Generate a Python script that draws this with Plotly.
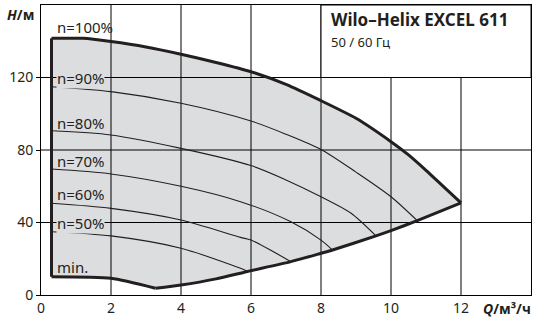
import plotly.graph_objects as go

# ---- data ----
q_ticks = [0, 2, 4, 6, 8, 10, 12]
h_ticks = [0, 40, 80, 120]

n100_q = [0.3, 1.2, 2, 3, 4, 5, 6, 7, 8, 9, 10, 10.5, 11, 11.5, 12]
n100_h = [141.6, 141.6, 139.8, 136.8, 132.8, 128.3, 123.2, 116.2, 107.2, 97.5, 84.6, 77.3, 68.8, 59.8, 50.8]

min_q = [0.3, 2, 3.27, 4, 5, 5.9, 7.14, 8, 8.33, 9.57, 10, 10.75, 12]
min_h = [10.1, 9.2, 3.7, 5.5, 8.9, 13.0, 18.4, 23.0, 24.8, 32.6, 35.5, 41.0, 50.8]
min_kink = 2  # index of the lowest point (sharp corner)

n90_q = [0.3, 2, 4, 6, 7, 8, 9, 10, 10.75]
n90_h = [114.9, 112.2, 105.8, 96.0, 88.7, 80.3, 67.8, 54.2, 41.0]

n80_q = [0.3, 2, 4, 6, 7, 8, 8.86, 9.57]
n80_h = [90.6, 88.3, 80.9, 71.4, 63.5, 54.2, 45.1, 32.6]

n70_q = [0.3, 2, 4, 5.7, 7.14, 8, 8.33]
n70_h = [69.5, 66.8, 60.0, 51.5, 40.4, 30.3, 24.8]

n60_q = [0.3, 2, 4, 5.7, 6, 7.14]
n60_h = [50.6, 47.8, 41.4, 31.8, 30.3, 18.4]

n50_q = [0.3, 2, 4, 5.7, 5.9]
n50_h = [34.9, 32.6, 25.8, 14.7, 13.0]

labels = ["n=100%", "n=90%", "n=80%", "n=70%", "n=60%", "n=50%", "min."]
label_h = [147.8, 120.0, 95.0, 74.1, 55.6, 40.0, 15.7]
label_bg = [False, True, False, False, False, True, False]

title_text = "Wilo–Helix EXCEL 611"
subtitle_text = "50 / 60 Гц"

# ---- styling ----
FILL = "#dcdddf"
INK = "#231f20"
FONT = "Noto Sans"

fig = go.Figure()

# operating area fill
bq = n100_q + min_q[::-1]
bh = n100_h + min_h[::-1]
fig.add_trace(go.Scatter(x=bq, y=bh, fill="toself", fillcolor=FILL,
                         mode="none", hoverinfo="skip", showlegend=False))

# grid lines (drawn over the fill, as in the reference)
gx, gy = [], []
for q in q_ticks[1:]:
    gx += [q, q, None]
    gy += [0, 160, None]
for h in h_ticks[1:]:
    gx += [0, 14, None]
    gy += [h, h, None]
fig.add_trace(go.Scatter(x=gx, y=gy, mode="lines",
                         line=dict(color="black", width=1),
                         hoverinfo="skip", showlegend=False))

# speed curves
for cq, ch in [(n90_q, n90_h), (n80_q, n80_h), (n70_q, n70_h),
               (n60_q, n60_h), (n50_q, n50_h)]:
    fig.add_trace(go.Scatter(x=cq, y=ch, mode="lines", line_shape="spline",
                             line=dict(color=INK, width=1.1, smoothing=0.8),
                             hoverinfo="skip", showlegend=False))

# boundary (thick): top curve, min curve (two smooth pieces), left edge
thick = dict(color=INK, width=3, smoothing=0.6)
fig.add_trace(go.Scatter(x=n100_q, y=n100_h, mode="lines", line_shape="spline",
                         line=thick, hoverinfo="skip", showlegend=False))
fig.add_trace(go.Scatter(x=min_q[:min_kink + 1], y=min_h[:min_kink + 1], mode="lines",
                         line_shape="spline", line=thick, hoverinfo="skip", showlegend=False))
fig.add_trace(go.Scatter(x=min_q[min_kink:], y=min_h[min_kink:], mode="lines",
                         line_shape="spline", line=thick, hoverinfo="skip", showlegend=False))
fig.add_trace(go.Scatter(x=[n100_q[0], min_q[0]], y=[n100_h[0], min_h[0]], mode="lines",
                         line=dict(color=INK, width=3), hoverinfo="skip", showlegend=False))

# title box
fig.add_shape(type="rect", xref="x", yref="y", x0=8, x1=14, y0=120, y1=160,
              fillcolor="white", line=dict(color="black", width=1), layer="above")

annotations = []
for txt, h, bg in zip(labels, label_h, label_bg):
    annotations.append(dict(x=0.42, y=h, xref="x", yref="y", text=txt,
                            showarrow=False, xanchor="left", yanchor="middle",
                            font=dict(family=FONT, size=15, color=INK),
                            bgcolor=FILL if bg else None, borderpad=0))

annotations.append(dict(x=8.22, y=151.8, xref="x", yref="y",
                        text="<b>" + title_text + "</b>", showarrow=False,
                        xanchor="left", yanchor="middle",
                        font=dict(family=FONT, size=17, color=INK)))
annotations.append(dict(x=8.22, y=139.8, xref="x", yref="y",
                        text=subtitle_text, showarrow=False,
                        xanchor="left", yanchor="middle",
                        font=dict(family=FONT, size=13, color=INK)))
annotations.append(dict(x=-0.042, y=0.966, xref="paper", yref="paper",
                        text="<b><i>H</i>/м</b>", showarrow=False,
                        xanchor="center", yanchor="middle",
                        font=dict(family=FONT, size=14, color=INK)))
annotations.append(dict(x=0.952, y=-0.048, xref="paper", yref="paper",
                        text="<b><i>Q</i>/м³/ч</b>", showarrow=False,
                        xanchor="center", yanchor="middle",
                        font=dict(family=FONT, size=14, color=INK)))

fig.update_layout(
    width=544, height=322,
    margin=dict(l=41, r=13, t=5, b=27),
    paper_bgcolor="white", plot_bgcolor="white",
    showlegend=False,
    annotations=annotations,
    font=dict(family=FONT, size=14, color=INK),
)
fig.update_xaxes(range=[0, 14], tickvals=q_ticks, showgrid=False, zeroline=False,
                 showline=True, mirror=True, linecolor="black", linewidth=1,
                 ticks="", tickfont=dict(size=14, color=INK))
fig.update_yaxes(range=[0, 160], tickvals=h_ticks, showgrid=False, zeroline=False,
                 showline=True, mirror=True, linecolor="black", linewidth=1,
                 ticks="outside", ticklen=4, tickcolor="black",
                 tickfont=dict(size=14, color=INK))

fig.write_html("out.html")
